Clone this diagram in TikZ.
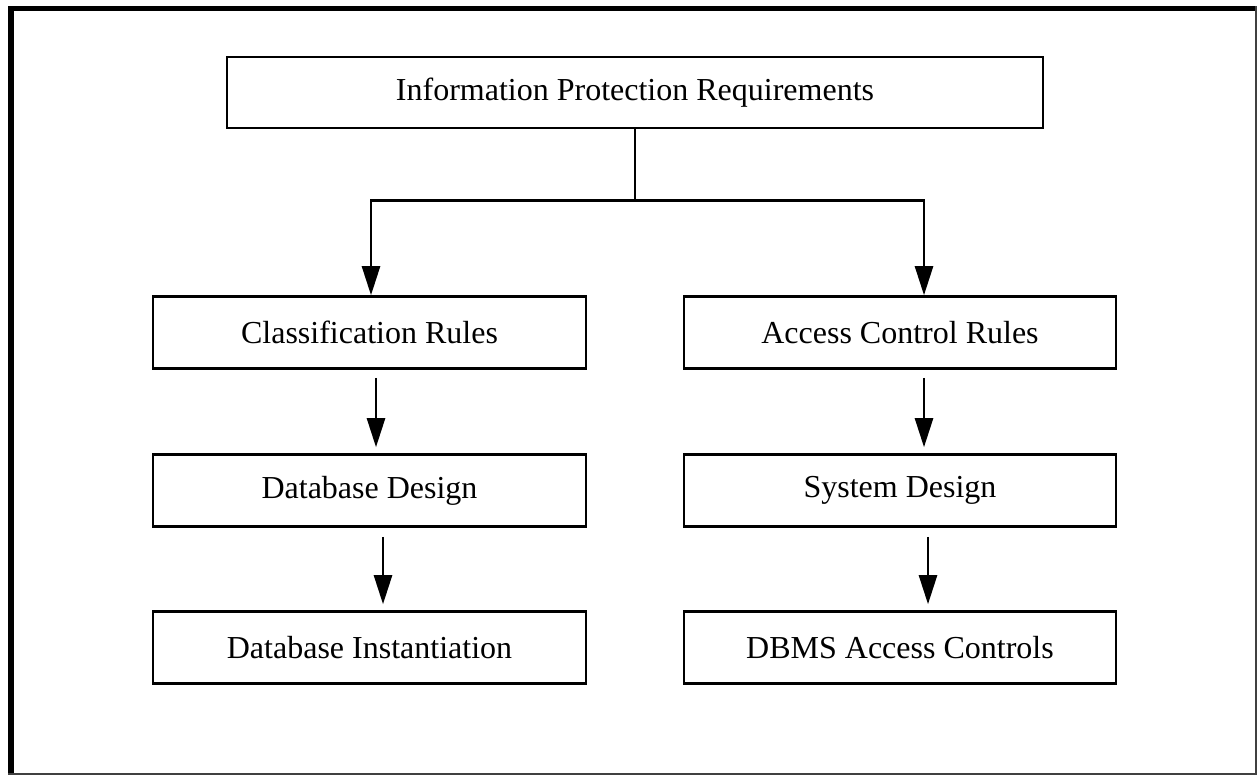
\documentclass[tikz,border=0pt]{standalone}
\usepackage{fontspec}
\setmainfont{Liberation Serif}
\usetikzlibrary{arrows.meta,calc}
\begin{document}
\begin{tikzpicture}[x=1pt,y=-1pt,
  box/.style={draw,line width=2.6pt,rectangle,inner sep=0pt,font=\fontsize{32}{38}\selectfont},
  arr/.style={line width=2.6pt,-{Triangle[length=29pt,width=18pt]}},
  link/.style={line width=2.6pt}]
\useasboundingbox (0,0) rectangle (1257,775);
% page frame: heavy top/left edges, thin right/bottom edges
\fill[black] (8,6) rectangle (14,775);
\fill[black] (8,6) rectangle (1257,11);
\fill[black!75] (1254.5,6) rectangle (1257,775);
\fill[black!75] (8,772.5) rectangle (1257,775);

\node[box,minimum width=816pt,minimum height=71pt] (ipr) at (635,92.5) {Information Protection Requirements};

\node[box,minimum width=433pt,minimum height=72pt] (cls) at (369.5,332.5) {Classification Rules};
\node[box,minimum width=433pt,minimum height=72pt] (dbd) at (369.5,490.5) {Database Design};
\node[box,minimum width=433pt,minimum height=72pt] (dbi) at (369.5,647.5) {Database Instantiation};

\node[box,minimum width=432pt,minimum height=72pt] (acr) at (900,332.5) {Access Control Rules};
\node[box,minimum width=432pt,minimum height=72pt] (sys) at (900,490.5) {System Design};
\node[box,minimum width=432pt,minimum height=72pt] (dac) at (900,647.5) {DBMS Access Controls};

% branching from the top requirement
\coordinate (jn) at (635,200.5);
\draw[link] (ipr.south) -- (jn);
\draw[arr] (jn) -| ([xshift=1.5pt]cls.north);
\draw[arr] (jn) -| ([xshift=24pt]acr.north);

% left chain
\draw[arr] ([xshift=6.5pt,yshift=-8pt]cls.south) -- ([xshift=6.5pt,yshift=6pt]dbd.north);
\draw[arr] ([xshift=13.5pt,yshift=-9pt]dbd.south) -- ([xshift=13.5pt,yshift=6pt]dbi.north);

% right chain
\draw[arr] ([xshift=24pt,yshift=-8pt]acr.south) -- ([xshift=24pt,yshift=6pt]sys.north);
\draw[arr] ([xshift=28pt,yshift=-9pt]sys.south) -- ([xshift=28pt,yshift=6pt]dac.north);
\end{tikzpicture}
\end{document}
